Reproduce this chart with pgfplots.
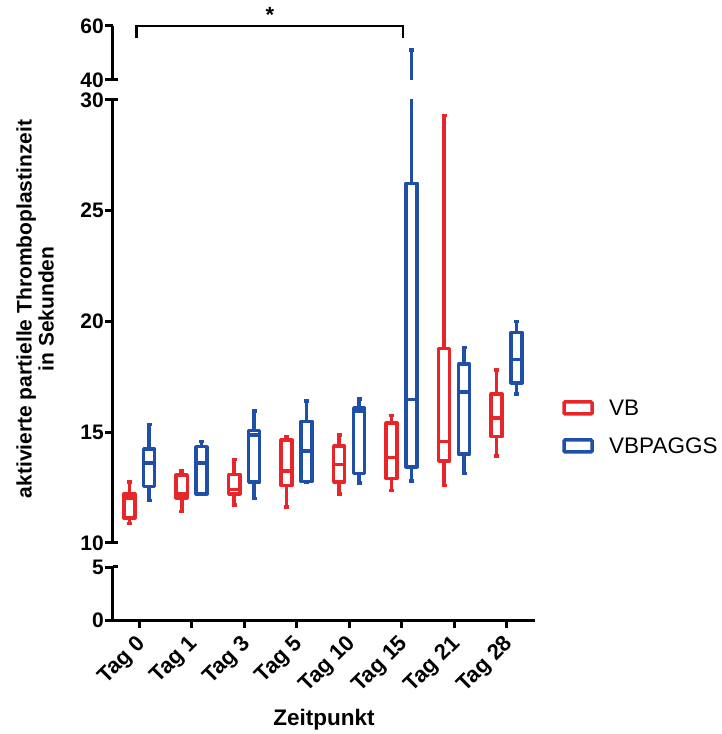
\documentclass[border=0pt]{standalone}
\usepackage{fontspec}
\setmainfont{Liberation Sans}
\usepackage{pgfplots}
\pgfplotsset{compat=1.18}
\usepgfplotslibrary{statistics}
\definecolor{vbred}{RGB}{232,38,42}
\definecolor{vbblue}{RGB}{30,80,168}

% #1 colour, #2 draw position, #3 lower whisker, #4 lower quartile, #5 median, #6 upper quartile, #7 upper whisker
\newcommand\bp[7]{%
 \addplot[draw=#1, line width=3.5pt, line join=round,
   boxplot prepared={draw position=#2, lower whisker=#3, lower quartile=#4, median=#5, upper quartile=#6, upper whisker=#7, box extend=0.21, whisker extend=0.1}] coordinates {};}

\newcommand\allboxes{%
 \bp{vbred}{-0.19}{10.89}{11.13}{12.04}{12.22}{12.75}
 \bp{vbred}{0.81}{11.43}{12.04}{12.22}{13.06}{13.25}
 \bp{vbred}{1.81}{11.71}{12.22}{12.41}{13.10}{13.77}
 \bp{vbred}{2.81}{11.62}{12.60}{13.25}{14.65}{14.80}
 \bp{vbred}{3.81}{12.22}{12.75}{13.54}{14.38}{14.88}
 \bp{vbred}{4.81}{12.37}{12.91}{13.85}{15.41}{15.76}
 \bp{vbred}{5.81}{12.60}{13.70}{14.58}{18.79}{29.29}
 \bp{vbred}{6.81}{13.92}{14.80}{15.64}{16.73}{17.81}
 \bp{vbblue}{0.19}{11.92}{12.56}{13.62}{14.24}{15.35}
 \bp{vbblue}{1.19}{12.20}{12.22}{13.62}{14.35}{14.58}
 \bp{vbblue}{2.19}{12.01}{12.75}{14.88}{15.08}{15.97}
 \bp{vbblue}{3.19}{12.76}{12.78}{14.15}{15.49}{16.40}
 \bp{vbblue}{4.19}{12.72}{13.13}{15.94}{16.09}{16.50}
 \bp{vbblue}{5.19}{12.80}{13.44}{16.47}{26.24}{51.20}
 \bp{vbblue}{6.19}{13.13}{14.01}{16.81}{18.07}{18.82}
 \bp{vbblue}{7.19}{16.73}{17.23}{18.29}{19.50}{19.99}
}

\pgfplotsset{
 brk/.style={
  scale only axis, width=422pt,
  xmin=-0.5, xmax=7.54,
  boxplot/draw direction=y,
  axis line style={line width=3pt, black, -},
  tick style={line width=3pt, black},
  tick align=outside, major tick length=8pt,
  /pgf/number format/assume math mode=true,
  yticklabel style={font=\bfseries\fontsize{21}{24}\selectfont, inner sep=1pt},
  anchor=south west,
 }
}

\begin{document}
\begin{tikzpicture}
\path[use as bounding box] (-113pt,-114pt) rectangle (609pt,620pt);

% bottom segment 0-5
\begin{axis}[brk, at={(0pt,0pt)}, height=53pt, ymin=0, ymax=5,
  axis x line*=bottom, axis y line*=left,
  ytick={0,5}, xtick={0,...,7},
  xticklabels={Tag 0,Tag 1,Tag 3,Tag 5,Tag 10,Tag 15,Tag 21,Tag 28},
  xticklabel style={xshift=-4pt, yshift=-4pt, rotate=45, anchor=north east, inner sep=1pt, font=\bfseries\fontsize{22}{24}\selectfont}]
\allboxes
\end{axis}

% middle segment 10-30
\begin{axis}[brk, at={(0pt,77pt)}, height=443pt, ymin=10, ymax=30,
  axis x line=none, axis y line*=left,
  ytick={10,15,20,25,30}, xtick=\empty]
\allboxes
\end{axis}

% top segment 40-60
\begin{axis}[brk, at={(0pt,540pt)}, height=54pt, ymin=40, ymax=60,
  axis x line=none, axis y line*=left,
  ytick={40,60}, xtick=\empty]
\allboxes
\end{axis}

% break marks crossing the axis
\foreach \yy in {53,77,520,540} {\draw[line width=3pt] (0pt,\yy pt) -- (5pt,\yy pt);}

% significance bracket
\draw[line width=2.5pt] (23.7pt,582pt) -- (23.7pt,594pt) -- (290pt,594pt) -- (290pt,582pt);
\node[anchor=base, inner sep=0pt, font=\bfseries\fontsize{22}{24}\selectfont] at (157pt,597pt) {*};

% axis labels
\node[rotate=90, align=center, font=\bfseries\fontsize{21}{22}\selectfont] at (-78pt,311pt) {aktivierte partielle Thromboplastinzeit\\in Sekunden};
\node[font=\bfseries\fontsize{22.5}{26}\selectfont] at (211pt,-100pt) {Zeitpunkt};

% legend
\draw[vbred, line width=3.5pt, rounded corners=1pt] (451pt,206pt) rectangle (479pt,218pt);
\draw[vbblue, line width=3.5pt, rounded corners=1pt] (451pt,168pt) rectangle (479pt,180pt);
\node[anchor=west, inner sep=0pt, font=\fontsize{22.5}{26}\selectfont] at (496pt,212pt) {VB};
\node[anchor=west, inner sep=0pt, font=\fontsize{22.5}{26}\selectfont] at (496pt,174pt) {VBPAGGS};
\end{tikzpicture}
\end{document}
